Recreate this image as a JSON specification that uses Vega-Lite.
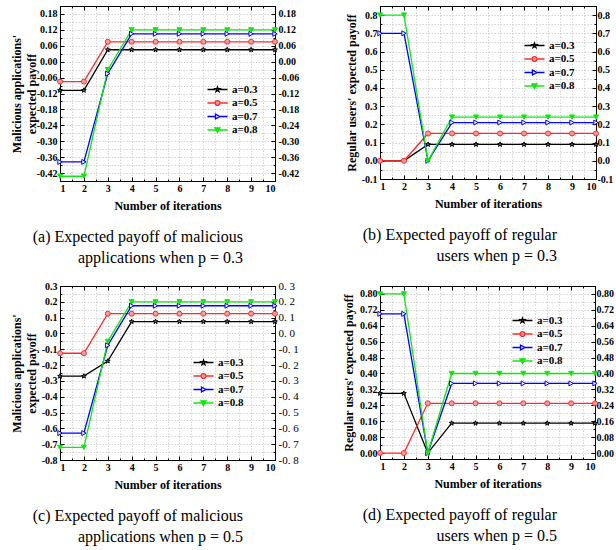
{
"$schema": "https://vega.github.io/schema/vega-lite/v6.json",
"padding": {"left": 9, "top": 5, "right": 0, "bottom": 0},
"background": "white",
"config": {
 "view": {"stroke": "black", "strokeWidth": 1},
 "axis": {"domainColor": "black", "tickColor": "black", "labelFont": "Liberation Serif", "labelFontWeight": "bold", "labelFontSize": 10, "labelColor": "black", "titleFont": "Liberation Serif", "titleFontWeight": "bold", "titleFontSize": 12, "titleColor": "black", "gridColor": "#c4c4c4", "gridDash": [1.5, 1.5], "gridWidth": 0.7, "labelPadding": 7, "titlePadding": 6},
 "axisX": {"labelPadding": 6, "titlePadding": 7},
 "legend": {"labelFont": "Liberation Serif", "labelFontWeight": "bold", "labelFontSize": 11, "labelColor": "black", "symbolSize": 64, "labelOffset": 9, "rowPadding": 1.5},
 "title": {"font": "Liberation Serif", "fontSize": 16, "fontWeight": "normal", "color": "black", "lineHeight": 21, "offset": 18, "orient": "bottom", "anchor": "end", "align": "right", "frame": "group"}
},
"datasets": {"d": [
{"p":"a","s":"a=0.3","i":1,"y":-0.108},{"p":"a","s":"a=0.3","i":2,"y":-0.108},{"p":"a","s":"a=0.3","i":3,"y":0.045},{"p":"a","s":"a=0.3","i":4,"y":0.045},{"p":"a","s":"a=0.3","i":5,"y":0.045},{"p":"a","s":"a=0.3","i":6,"y":0.045},{"p":"a","s":"a=0.3","i":7,"y":0.045},{"p":"a","s":"a=0.3","i":8,"y":0.045},{"p":"a","s":"a=0.3","i":9,"y":0.045},{"p":"a","s":"a=0.3","i":10,"y":0.045},
{"p":"a","s":"a=0.5","i":1,"y":-0.075},{"p":"a","s":"a=0.5","i":2,"y":-0.075},{"p":"a","s":"a=0.5","i":3,"y":0.075},{"p":"a","s":"a=0.5","i":4,"y":0.075},{"p":"a","s":"a=0.5","i":5,"y":0.075},{"p":"a","s":"a=0.5","i":6,"y":0.075},{"p":"a","s":"a=0.5","i":7,"y":0.075},{"p":"a","s":"a=0.5","i":8,"y":0.075},{"p":"a","s":"a=0.5","i":9,"y":0.075},{"p":"a","s":"a=0.5","i":10,"y":0.075},
{"p":"a","s":"a=0.7","i":1,"y":-0.378},{"p":"a","s":"a=0.7","i":2,"y":-0.378},{"p":"a","s":"a=0.7","i":3,"y":-0.045},{"p":"a","s":"a=0.7","i":4,"y":0.105},{"p":"a","s":"a=0.7","i":5,"y":0.105},{"p":"a","s":"a=0.7","i":6,"y":0.105},{"p":"a","s":"a=0.7","i":7,"y":0.105},{"p":"a","s":"a=0.7","i":8,"y":0.105},{"p":"a","s":"a=0.7","i":9,"y":0.105},{"p":"a","s":"a=0.7","i":10,"y":0.105},
{"p":"a","s":"a=0.8","i":1,"y":-0.432},{"p":"a","s":"a=0.8","i":2,"y":-0.432},{"p":"a","s":"a=0.8","i":3,"y":-0.03},{"p":"a","s":"a=0.8","i":4,"y":0.12},{"p":"a","s":"a=0.8","i":5,"y":0.12},{"p":"a","s":"a=0.8","i":6,"y":0.12},{"p":"a","s":"a=0.8","i":7,"y":0.12},{"p":"a","s":"a=0.8","i":8,"y":0.12},{"p":"a","s":"a=0.8","i":9,"y":0.12},{"p":"a","s":"a=0.8","i":10,"y":0.12},
{"p":"b","s":"a=0.3","i":1,"y":0},{"p":"b","s":"a=0.3","i":2,"y":0},{"p":"b","s":"a=0.3","i":3,"y":0.09},{"p":"b","s":"a=0.3","i":4,"y":0.09},{"p":"b","s":"a=0.3","i":5,"y":0.09},{"p":"b","s":"a=0.3","i":6,"y":0.09},{"p":"b","s":"a=0.3","i":7,"y":0.09},{"p":"b","s":"a=0.3","i":8,"y":0.09},{"p":"b","s":"a=0.3","i":9,"y":0.09},{"p":"b","s":"a=0.3","i":10,"y":0.09},
{"p":"b","s":"a=0.5","i":1,"y":0},{"p":"b","s":"a=0.5","i":2,"y":0},{"p":"b","s":"a=0.5","i":3,"y":0.15},{"p":"b","s":"a=0.5","i":4,"y":0.15},{"p":"b","s":"a=0.5","i":5,"y":0.15},{"p":"b","s":"a=0.5","i":6,"y":0.15},{"p":"b","s":"a=0.5","i":7,"y":0.15},{"p":"b","s":"a=0.5","i":8,"y":0.15},{"p":"b","s":"a=0.5","i":9,"y":0.15},{"p":"b","s":"a=0.5","i":10,"y":0.15},
{"p":"b","s":"a=0.7","i":1,"y":0.7},{"p":"b","s":"a=0.7","i":2,"y":0.7},{"p":"b","s":"a=0.7","i":3,"y":0},{"p":"b","s":"a=0.7","i":4,"y":0.21},{"p":"b","s":"a=0.7","i":5,"y":0.21},{"p":"b","s":"a=0.7","i":6,"y":0.21},{"p":"b","s":"a=0.7","i":7,"y":0.21},{"p":"b","s":"a=0.7","i":8,"y":0.21},{"p":"b","s":"a=0.7","i":9,"y":0.21},{"p":"b","s":"a=0.7","i":10,"y":0.21},
{"p":"b","s":"a=0.8","i":1,"y":0.8},{"p":"b","s":"a=0.8","i":2,"y":0.8},{"p":"b","s":"a=0.8","i":3,"y":0},{"p":"b","s":"a=0.8","i":4,"y":0.24},{"p":"b","s":"a=0.8","i":5,"y":0.24},{"p":"b","s":"a=0.8","i":6,"y":0.24},{"p":"b","s":"a=0.8","i":7,"y":0.24},{"p":"b","s":"a=0.8","i":8,"y":0.24},{"p":"b","s":"a=0.8","i":9,"y":0.24},{"p":"b","s":"a=0.8","i":10,"y":0.24},
{"p":"c","s":"a=0.3","i":1,"y":-0.27},{"p":"c","s":"a=0.3","i":2,"y":-0.27},{"p":"c","s":"a=0.3","i":3,"y":-0.175},{"p":"c","s":"a=0.3","i":4,"y":0.075},{"p":"c","s":"a=0.3","i":5,"y":0.075},{"p":"c","s":"a=0.3","i":6,"y":0.075},{"p":"c","s":"a=0.3","i":7,"y":0.075},{"p":"c","s":"a=0.3","i":8,"y":0.075},{"p":"c","s":"a=0.3","i":9,"y":0.075},{"p":"c","s":"a=0.3","i":10,"y":0.075},
{"p":"c","s":"a=0.5","i":1,"y":-0.125},{"p":"c","s":"a=0.5","i":2,"y":-0.125},{"p":"c","s":"a=0.5","i":3,"y":0.125},{"p":"c","s":"a=0.5","i":4,"y":0.125},{"p":"c","s":"a=0.5","i":5,"y":0.125},{"p":"c","s":"a=0.5","i":6,"y":0.125},{"p":"c","s":"a=0.5","i":7,"y":0.125},{"p":"c","s":"a=0.5","i":8,"y":0.125},{"p":"c","s":"a=0.5","i":9,"y":0.125},{"p":"c","s":"a=0.5","i":10,"y":0.125},
{"p":"c","s":"a=0.7","i":1,"y":-0.63},{"p":"c","s":"a=0.7","i":2,"y":-0.63},{"p":"c","s":"a=0.7","i":3,"y":-0.075},{"p":"c","s":"a=0.7","i":4,"y":0.175},{"p":"c","s":"a=0.7","i":5,"y":0.175},{"p":"c","s":"a=0.7","i":6,"y":0.175},{"p":"c","s":"a=0.7","i":7,"y":0.175},{"p":"c","s":"a=0.7","i":8,"y":0.175},{"p":"c","s":"a=0.7","i":9,"y":0.175},{"p":"c","s":"a=0.7","i":10,"y":0.175},
{"p":"c","s":"a=0.8","i":1,"y":-0.72},{"p":"c","s":"a=0.8","i":2,"y":-0.72},{"p":"c","s":"a=0.8","i":3,"y":-0.05},{"p":"c","s":"a=0.8","i":4,"y":0.2},{"p":"c","s":"a=0.8","i":5,"y":0.2},{"p":"c","s":"a=0.8","i":6,"y":0.2},{"p":"c","s":"a=0.8","i":7,"y":0.2},{"p":"c","s":"a=0.8","i":8,"y":0.2},{"p":"c","s":"a=0.8","i":9,"y":0.2},{"p":"c","s":"a=0.8","i":10,"y":0.2},
{"p":"d","s":"a=0.3","i":1,"y":0.3},{"p":"d","s":"a=0.3","i":2,"y":0.3},{"p":"d","s":"a=0.3","i":3,"y":0},{"p":"d","s":"a=0.3","i":4,"y":0.15},{"p":"d","s":"a=0.3","i":5,"y":0.15},{"p":"d","s":"a=0.3","i":6,"y":0.15},{"p":"d","s":"a=0.3","i":7,"y":0.15},{"p":"d","s":"a=0.3","i":8,"y":0.15},{"p":"d","s":"a=0.3","i":9,"y":0.15},{"p":"d","s":"a=0.3","i":10,"y":0.15},
{"p":"d","s":"a=0.5","i":1,"y":0},{"p":"d","s":"a=0.5","i":2,"y":0},{"p":"d","s":"a=0.5","i":3,"y":0.25},{"p":"d","s":"a=0.5","i":4,"y":0.25},{"p":"d","s":"a=0.5","i":5,"y":0.25},{"p":"d","s":"a=0.5","i":6,"y":0.25},{"p":"d","s":"a=0.5","i":7,"y":0.25},{"p":"d","s":"a=0.5","i":8,"y":0.25},{"p":"d","s":"a=0.5","i":9,"y":0.25},{"p":"d","s":"a=0.5","i":10,"y":0.25},
{"p":"d","s":"a=0.7","i":1,"y":0.7},{"p":"d","s":"a=0.7","i":2,"y":0.7},{"p":"d","s":"a=0.7","i":3,"y":0},{"p":"d","s":"a=0.7","i":4,"y":0.35},{"p":"d","s":"a=0.7","i":5,"y":0.35},{"p":"d","s":"a=0.7","i":6,"y":0.35},{"p":"d","s":"a=0.7","i":7,"y":0.35},{"p":"d","s":"a=0.7","i":8,"y":0.35},{"p":"d","s":"a=0.7","i":9,"y":0.35},{"p":"d","s":"a=0.7","i":10,"y":0.35},
{"p":"d","s":"a=0.8","i":1,"y":0.8},{"p":"d","s":"a=0.8","i":2,"y":0.8},{"p":"d","s":"a=0.8","i":3,"y":0},{"p":"d","s":"a=0.8","i":4,"y":0.4},{"p":"d","s":"a=0.8","i":5,"y":0.4},{"p":"d","s":"a=0.8","i":6,"y":0.4},{"p":"d","s":"a=0.8","i":7,"y":0.4},{"p":"d","s":"a=0.8","i":8,"y":0.4},{"p":"d","s":"a=0.8","i":9,"y":0.4},{"p":"d","s":"a=0.8","i":10,"y":0.4}
]},
"columns": 2,
"bounds": "flush",
"spacing": {"column": 105, "row": 105},
"resolve": {"scale": {"color": "independent", "x": "independent", "y": "independent"}, "legend": {"color": "independent"}},
"concat": [
{
 "width": 215, "height": 175,
 "data": {"name": "d"},
 "transform": [{"filter": "datum.p == 'a'"}],
 "title": {"text": ["(a) Expected payoff of malicious", "applications when p = 0.3"], "dx": -32},
 "resolve": {"axis": {"x": "independent", "y": "independent"}},
 "layer": [
  {"mark": {"type": "line", "strokeWidth": 1.3},
   "encoding": {
    "x": {"field": "i", "type": "quantitative", "scale": {"domain": [1, 10], "nice": false}, "axis": {"orient": "bottom", "values": [1,1.5,2,2.5,3,3.5,4,4.5,5,5.5,6,6.5,7,7.5,8,8.5,9,9.5,10], "labelExpr": "datum.value % 1 == 0 ? format(datum.value, 'd') : ''", "tickSize": {"condition": {"test": "datum.value % 1 != 0", "value": -2}, "value": -4}, "grid": true, "title": "Number of iterations"}},
    "y": {"field": "y", "type": "quantitative", "scale": {"domain": [-0.45, 0.21], "nice": false, "zero": false}, "axis": {"orient": "left", "values": [-0.45,-0.42,-0.39,-0.36,-0.33,-0.3,-0.27,-0.24,-0.21,-0.18,-0.15,-0.12,-0.09,-0.06,-0.03,0,0.03,0.06,0.09,0.12,0.15,0.18,0.21], "labelExpr": "abs(datum.value/0.06 - round(datum.value/0.06)) < 0.01 ? replace(format(datum.value, '.2f'), '\u2212', '-') : ''", "tickSize": {"condition": {"test": "abs(datum.value/0.06 - round(datum.value/0.06)) > 0.01", "value": -2}, "value": -4}, "grid": true, "title": ["Malicious applications'", "expected payoff"], "titleLineHeight": 15, "titlePadding": -2}},
    "color": {"field": "s", "type": "nominal", "scale": {"domain": ["a=0.3","a=0.5","a=0.7","a=0.8"], "range": ["#000000","#ff2a2a","#0000ff","#10e810"]},
     "legend": {"title": null, "orient": "none", "legendX": 152, "legendY": 78,
      "encode": {"symbols": {"update": {
       "shape": {"signal": "datum.value == 'a=0.3' ? 'M-2.5,0H-0.6M0.6,0H2.5M0,-0.65L0.153,-0.211L0.618,-0.201L0.247,0.081L0.382,0.526L0,0.26L-0.382,0.526L-0.247,0.081L-0.618,-0.201L-0.153,-0.211Z' : datum.value == 'a=0.5' ? 'M-2.5,0H-0.6M0.6,0H2.5M-0.6,0A0.6,0.6 0 1,0 0.6,0A0.6,0.6 0 1,0 -0.6,0Z' : datum.value == 'a=0.7' ? 'M-2.5,0H-0.5M0.6,0H2.5M-0.5,-0.6L0.6,0L-0.5,0.6Z' : 'M-2.5,0H-0.4M0.4,0H2.5M-0.65,-0.55L0.65,-0.55L0,0.6Z'"},
       "stroke": {"signal": "datum.value == 'a=0.3' ? '#000000' : datum.value == 'a=0.5' ? '#ff2a2a' : datum.value == 'a=0.7' ? '#0000ff' : '#10e810'"},
       "fill": {"signal": "datum.value == 'a=0.3' ? '#707070' : datum.value == 'a=0.5' ? '#ff9a9a' : datum.value == 'a=0.7' ? '#ffffff' : '#10e810'"},
       "strokeWidth": {"value": 1.3}, "opacity": {"value": 1}}}}}}
   }},
  {"mark": {"type": "point", "size": 25, "strokeWidth": 1, "opacity": 1},
   "encoding": {
    "x": {"field": "i", "type": "quantitative", "axis": {"orient": "top", "values": [1,1.5,2,2.5,3,3.5,4,4.5,5,5.5,6,6.5,7,7.5,8,8.5,9,9.5,10], "labels": false, "tickSize": {"condition": {"test": "datum.value % 1 != 0", "value": -2}, "value": -4}, "grid": false, "title": null}},
    "y": {"field": "y", "type": "quantitative", "axis": {"orient": "right", "labelPadding": 7, "values": [-0.45,-0.42,-0.39,-0.36,-0.33,-0.3,-0.27,-0.24,-0.21,-0.18,-0.15,-0.12,-0.09,-0.06,-0.03,0,0.03,0.06,0.09,0.12,0.15,0.18,0.21], "labelExpr": "abs(datum.value/0.06 - round(datum.value/0.06)) < 0.01 ? replace(format(datum.value, '.2f'), '\u2212', '-') : ''", "tickSize": {"condition": {"test": "abs(datum.value/0.06 - round(datum.value/0.06)) > 0.01", "value": -2}, "value": -4}, "grid": false, "title": null}},
    "stroke": {"field": "s", "type": "nominal", "scale": {"domain": ["a=0.3","a=0.5","a=0.7","a=0.8"], "range": ["#000000","#ff2a2a","#0000ff","#10e810"]}, "legend": null},
    "fill": {"field": "s", "type": "nominal", "scale": {"domain": ["a=0.3","a=0.5","a=0.7","a=0.8"], "range": ["#707070","#ff9a9a","#ffffff","#10e810"]}, "legend": null},
    "shape": {"field": "s", "type": "nominal", "scale": {"domain": ["a=0.3","a=0.5","a=0.7","a=0.8"], "range": ["M0,-1L0.235,-0.324L0.951,-0.309L0.38,0.124L0.588,0.809L0,0.4L-0.588,0.809L-0.38,0.124L-0.951,-0.309L-0.235,-0.324Z","circle","triangle-right","triangle-down"]}, "legend": null}
   }}
 ]
},
{
 "width": 216, "height": 173,
 "data": {"name": "d"},
 "transform": [{"filter": "datum.p == 'b'"}],
 "title": {"text": ["(b) Expected payoff of regular", "users when p = 0.3"], "dx": -39},
 "resolve": {"axis": {"x": "independent", "y": "independent"}},
 "layer": [
  {"mark": {"type": "line", "strokeWidth": 1.3},
   "encoding": {
    "x": {"field": "i", "type": "quantitative", "scale": {"domain": [1, 10], "nice": false}, "axis": {"orient": "bottom", "values": [1,1.5,2,2.5,3,3.5,4,4.5,5,5.5,6,6.5,7,7.5,8,8.5,9,9.5,10], "labelExpr": "datum.value % 1 == 0 ? format(datum.value, 'd') : ''", "tickSize": {"condition": {"test": "datum.value % 1 != 0", "value": -2}, "value": -4}, "grid": true, "title": "Number of iterations"}},
    "y": {"field": "y", "type": "quantitative", "scale": {"domain": [-0.1, 0.85], "nice": false, "zero": false}, "axis": {"orient": "left", "values": [-0.1,-0.05,0,0.05,0.1,0.15,0.2,0.25,0.3,0.35,0.4,0.45,0.5,0.55,0.6,0.65,0.7,0.75,0.8,0.85], "labelExpr": "abs(datum.value*10 - round(datum.value*10)) < 0.01 ? replace(format(datum.value, '.1f'), '\u2212', '-') : ''", "tickSize": {"condition": {"test": "abs(datum.value*10 - round(datum.value*10)) > 0.01", "value": -2}, "value": -4}, "grid": true, "title": "Regular users' expected payoff", "titlePadding": 3}},
    "color": {"field": "s", "type": "nominal", "scale": {"domain": ["a=0.3","a=0.5","a=0.7","a=0.8"], "range": ["#000000","#ff2a2a","#0000ff","#10e810"]},
     "legend": {"title": null, "orient": "none", "legendX": 149, "legendY": 34,
      "encode": {"symbols": {"update": {
       "shape": {"signal": "datum.value == 'a=0.3' ? 'M-2.5,0H-0.6M0.6,0H2.5M0,-0.65L0.153,-0.211L0.618,-0.201L0.247,0.081L0.382,0.526L0,0.26L-0.382,0.526L-0.247,0.081L-0.618,-0.201L-0.153,-0.211Z' : datum.value == 'a=0.5' ? 'M-2.5,0H-0.6M0.6,0H2.5M-0.6,0A0.6,0.6 0 1,0 0.6,0A0.6,0.6 0 1,0 -0.6,0Z' : datum.value == 'a=0.7' ? 'M-2.5,0H-0.5M0.6,0H2.5M-0.5,-0.6L0.6,0L-0.5,0.6Z' : 'M-2.5,0H-0.4M0.4,0H2.5M-0.65,-0.55L0.65,-0.55L0,0.6Z'"},
       "stroke": {"signal": "datum.value == 'a=0.3' ? '#000000' : datum.value == 'a=0.5' ? '#ff2a2a' : datum.value == 'a=0.7' ? '#0000ff' : '#10e810'"},
       "fill": {"signal": "datum.value == 'a=0.3' ? '#707070' : datum.value == 'a=0.5' ? '#ff9a9a' : datum.value == 'a=0.7' ? '#ffffff' : '#10e810'"},
       "strokeWidth": {"value": 1.3}, "opacity": {"value": 1}}}}}}
   }},
  {"mark": {"type": "point", "size": 25, "strokeWidth": 1, "opacity": 1},
   "encoding": {
    "x": {"field": "i", "type": "quantitative", "axis": {"orient": "top", "values": [1,1.5,2,2.5,3,3.5,4,4.5,5,5.5,6,6.5,7,7.5,8,8.5,9,9.5,10], "labels": false, "tickSize": {"condition": {"test": "datum.value % 1 != 0", "value": -2}, "value": -4}, "grid": false, "title": null}},
    "y": {"field": "y", "type": "quantitative", "axis": {"orient": "right", "labelPadding": 5, "values": [-0.1,-0.05,0,0.05,0.1,0.15,0.2,0.25,0.3,0.35,0.4,0.45,0.5,0.55,0.6,0.65,0.7,0.75,0.8,0.85], "labelExpr": "abs(datum.value*10 - round(datum.value*10)) < 0.01 ? replace(format(datum.value, '.1f'), '\u2212', '-') : ''", "tickSize": {"condition": {"test": "abs(datum.value*10 - round(datum.value*10)) > 0.01", "value": -2}, "value": -4}, "grid": false, "title": null}},
    "stroke": {"field": "s", "type": "nominal", "scale": {"domain": ["a=0.3","a=0.5","a=0.7","a=0.8"], "range": ["#000000","#ff2a2a","#0000ff","#10e810"]}, "legend": null},
    "fill": {"field": "s", "type": "nominal", "scale": {"domain": ["a=0.3","a=0.5","a=0.7","a=0.8"], "range": ["#707070","#ff9a9a","#ffffff","#10e810"]}, "legend": null},
    "shape": {"field": "s", "type": "nominal", "scale": {"domain": ["a=0.3","a=0.5","a=0.7","a=0.8"], "range": ["M0,-1L0.235,-0.324L0.951,-0.309L0.38,0.124L0.588,0.809L0,0.4L-0.588,0.809L-0.38,0.124L-0.951,-0.309L-0.235,-0.324Z","circle","triangle-right","triangle-down"]}, "legend": null}
   }}
 ]
},
{
 "width": 215, "height": 174,
 "data": {"name": "d"},
 "transform": [{"filter": "datum.p == 'c'"}],
 "title": {"text": ["(c) Expected payoff of malicious", "applications when p = 0.5"], "dx": -32},
 "resolve": {"axis": {"x": "independent", "y": "independent"}},
 "layer": [
  {"mark": {"type": "line", "strokeWidth": 1.3},
   "encoding": {
    "x": {"field": "i", "type": "quantitative", "scale": {"domain": [1, 10], "nice": false}, "axis": {"orient": "bottom", "values": [1,1.5,2,2.5,3,3.5,4,4.5,5,5.5,6,6.5,7,7.5,8,8.5,9,9.5,10], "labelExpr": "datum.value % 1 == 0 ? format(datum.value, 'd') : ''", "tickSize": {"condition": {"test": "datum.value % 1 != 0", "value": -2}, "value": -4}, "grid": true, "title": "Number of iterations"}},
    "y": {"field": "y", "type": "quantitative", "scale": {"domain": [-0.8, 0.3], "nice": false, "zero": false}, "axis": {"orient": "left", "values": [-0.8,-0.75,-0.7,-0.65,-0.6,-0.55,-0.5,-0.45,-0.4,-0.35,-0.3,-0.25,-0.2,-0.15,-0.1,-0.05,0,0.05,0.1,0.15,0.2,0.25,0.3], "labelExpr": "abs(datum.value*10 - round(datum.value*10)) < 0.01 ? replace(format(datum.value, '.1f'), '\u2212', '-') : ''", "tickSize": {"condition": {"test": "abs(datum.value*10 - round(datum.value*10)) > 0.01", "value": -2}, "value": -4}, "grid": true, "title": ["Malicious applications'", "expected payoff"], "titleLineHeight": 15, "titlePadding": 3}},
    "color": {"field": "s", "type": "nominal", "scale": {"domain": ["a=0.3","a=0.5","a=0.7","a=0.8"], "range": ["#000000","#ff2a2a","#0000ff","#10e810"]},
     "legend": {"title": null, "orient": "none", "legendX": 138, "legendY": 71,
      "encode": {"symbols": {"update": {
       "shape": {"signal": "datum.value == 'a=0.3' ? 'M-2.5,0H-0.6M0.6,0H2.5M0,-0.65L0.153,-0.211L0.618,-0.201L0.247,0.081L0.382,0.526L0,0.26L-0.382,0.526L-0.247,0.081L-0.618,-0.201L-0.153,-0.211Z' : datum.value == 'a=0.5' ? 'M-2.5,0H-0.6M0.6,0H2.5M-0.6,0A0.6,0.6 0 1,0 0.6,0A0.6,0.6 0 1,0 -0.6,0Z' : datum.value == 'a=0.7' ? 'M-2.5,0H-0.5M0.6,0H2.5M-0.5,-0.6L0.6,0L-0.5,0.6Z' : 'M-2.5,0H-0.4M0.4,0H2.5M-0.65,-0.55L0.65,-0.55L0,0.6Z'"},
       "stroke": {"signal": "datum.value == 'a=0.3' ? '#000000' : datum.value == 'a=0.5' ? '#ff2a2a' : datum.value == 'a=0.7' ? '#0000ff' : '#10e810'"},
       "fill": {"signal": "datum.value == 'a=0.3' ? '#707070' : datum.value == 'a=0.5' ? '#ff9a9a' : datum.value == 'a=0.7' ? '#ffffff' : '#10e810'"},
       "strokeWidth": {"value": 1.3}, "opacity": {"value": 1}}}}}}
   }},
  {"mark": {"type": "point", "size": 25, "strokeWidth": 1, "opacity": 1},
   "encoding": {
    "x": {"field": "i", "type": "quantitative", "axis": {"orient": "top", "values": [1,1.5,2,2.5,3,3.5,4,4.5,5,5.5,6,6.5,7,7.5,8,8.5,9,9.5,10], "labels": false, "tickSize": {"condition": {"test": "datum.value % 1 != 0", "value": -2}, "value": -4}, "grid": false, "title": null}},
    "y": {"field": "y", "type": "quantitative", "axis": {"orient": "right", "labelPadding": 7, "values": [-0.8,-0.75,-0.7,-0.65,-0.6,-0.55,-0.5,-0.45,-0.4,-0.35,-0.3,-0.25,-0.2,-0.15,-0.1,-0.05,0,0.05,0.1,0.15,0.2,0.25,0.3], "labelExpr": "abs(datum.value*10 - round(datum.value*10)) < 0.01 ? replace(replace(format(datum.value, '.1f'), '\u2212', '-'), '.', '. ') : ''", "labelFontWeight": "normal", "labelFontSize": 11, "tickSize": {"condition": {"test": "abs(datum.value*10 - round(datum.value*10)) > 0.01", "value": -2}, "value": -4}, "grid": false, "title": null}},
    "stroke": {"field": "s", "type": "nominal", "scale": {"domain": ["a=0.3","a=0.5","a=0.7","a=0.8"], "range": ["#000000","#ff2a2a","#0000ff","#10e810"]}, "legend": null},
    "fill": {"field": "s", "type": "nominal", "scale": {"domain": ["a=0.3","a=0.5","a=0.7","a=0.8"], "range": ["#707070","#ff9a9a","#ffffff","#10e810"]}, "legend": null},
    "shape": {"field": "s", "type": "nominal", "scale": {"domain": ["a=0.3","a=0.5","a=0.7","a=0.8"], "range": ["M0,-1L0.235,-0.324L0.951,-0.309L0.38,0.124L0.588,0.809L0,0.4L-0.588,0.809L-0.38,0.124L-0.951,-0.309L-0.235,-0.324Z","circle","triangle-right","triangle-down"]}, "legend": null}
   }}
 ]
},
{
 "width": 215, "height": 173,
 "data": {"name": "d"},
 "transform": [{"filter": "datum.p == 'd'"}],
 "title": {"text": ["(d) Expected payoff of regular", "users when p = 0.5"], "dx": -38},
 "resolve": {"axis": {"x": "independent", "y": "independent"}},
 "layer": [
  {"mark": {"type": "line", "strokeWidth": 1.3},
   "encoding": {
    "x": {"field": "i", "type": "quantitative", "scale": {"domain": [1, 10], "nice": false}, "axis": {"orient": "bottom", "values": [1,1.5,2,2.5,3,3.5,4,4.5,5,5.5,6,6.5,7,7.5,8,8.5,9,9.5,10], "labelExpr": "datum.value % 1 == 0 ? format(datum.value, 'd') : ''", "tickSize": {"condition": {"test": "datum.value % 1 != 0", "value": -2}, "value": -4}, "grid": true, "title": "Number of iterations"}},
    "y": {"field": "y", "type": "quantitative", "scale": {"domain": [-0.03, 0.84], "nice": false, "zero": false}, "axis": {"orient": "left", "values": [0,0.04,0.08,0.12,0.16,0.2,0.24,0.28,0.32,0.36,0.4,0.44,0.48,0.52,0.56,0.6,0.64,0.68,0.72,0.76,0.8,0.84], "labelExpr": "abs(datum.value/0.08 - round(datum.value/0.08)) < 0.01 ? format(datum.value, '.2f') : ''", "tickSize": {"condition": {"test": "abs(datum.value/0.08 - round(datum.value/0.08)) > 0.01", "value": -2}, "value": -4}, "grid": true, "title": "Regular users' expected payoff", "titlePadding": 4}},
    "color": {"field": "s", "type": "nominal", "scale": {"domain": ["a=0.3","a=0.5","a=0.7","a=0.8"], "range": ["#000000","#ff2a2a","#0000ff","#10e810"]},
     "legend": {"title": null, "orient": "none", "legendX": 137, "legendY": 29,
      "encode": {"symbols": {"update": {
       "shape": {"signal": "datum.value == 'a=0.3' ? 'M-2.5,0H-0.6M0.6,0H2.5M0,-0.65L0.153,-0.211L0.618,-0.201L0.247,0.081L0.382,0.526L0,0.26L-0.382,0.526L-0.247,0.081L-0.618,-0.201L-0.153,-0.211Z' : datum.value == 'a=0.5' ? 'M-2.5,0H-0.6M0.6,0H2.5M-0.6,0A0.6,0.6 0 1,0 0.6,0A0.6,0.6 0 1,0 -0.6,0Z' : datum.value == 'a=0.7' ? 'M-2.5,0H-0.5M0.6,0H2.5M-0.5,-0.6L0.6,0L-0.5,0.6Z' : 'M-2.5,0H-0.4M0.4,0H2.5M-0.65,-0.55L0.65,-0.55L0,0.6Z'"},
       "stroke": {"signal": "datum.value == 'a=0.3' ? '#000000' : datum.value == 'a=0.5' ? '#ff2a2a' : datum.value == 'a=0.7' ? '#0000ff' : '#10e810'"},
       "fill": {"signal": "datum.value == 'a=0.3' ? '#707070' : datum.value == 'a=0.5' ? '#ff9a9a' : datum.value == 'a=0.7' ? '#ffffff' : '#10e810'"},
       "strokeWidth": {"value": 1.3}, "opacity": {"value": 1}}}}}}
   }},
  {"mark": {"type": "point", "size": 25, "strokeWidth": 1, "opacity": 1},
   "encoding": {
    "x": {"field": "i", "type": "quantitative", "axis": {"orient": "top", "values": [1,1.5,2,2.5,3,3.5,4,4.5,5,5.5,6,6.5,7,7.5,8,8.5,9,9.5,10], "labels": false, "tickSize": {"condition": {"test": "datum.value % 1 != 0", "value": -2}, "value": -4}, "grid": false, "title": null}},
    "y": {"field": "y", "type": "quantitative", "axis": {"orient": "right", "labelPadding": 5, "values": [0,0.04,0.08,0.12,0.16,0.2,0.24,0.28,0.32,0.36,0.4,0.44,0.48,0.52,0.56,0.6,0.64,0.68,0.72,0.76,0.8,0.84], "labelExpr": "abs(datum.value/0.08 - round(datum.value/0.08)) < 0.01 ? format(datum.value, '.2f') : ''", "tickSize": {"condition": {"test": "abs(datum.value/0.08 - round(datum.value/0.08)) > 0.01", "value": -2}, "value": -4}, "grid": false, "title": null}},
    "stroke": {"field": "s", "type": "nominal", "scale": {"domain": ["a=0.3","a=0.5","a=0.7","a=0.8"], "range": ["#000000","#ff2a2a","#0000ff","#10e810"]}, "legend": null},
    "fill": {"field": "s", "type": "nominal", "scale": {"domain": ["a=0.3","a=0.5","a=0.7","a=0.8"], "range": ["#707070","#ff9a9a","#ffffff","#10e810"]}, "legend": null},
    "shape": {"field": "s", "type": "nominal", "scale": {"domain": ["a=0.3","a=0.5","a=0.7","a=0.8"], "range": ["M0,-1L0.235,-0.324L0.951,-0.309L0.38,0.124L0.588,0.809L0,0.4L-0.588,0.809L-0.38,0.124L-0.951,-0.309L-0.235,-0.324Z","circle","triangle-right","triangle-down"]}, "legend": null}
   }}
 ]
}
]
}
